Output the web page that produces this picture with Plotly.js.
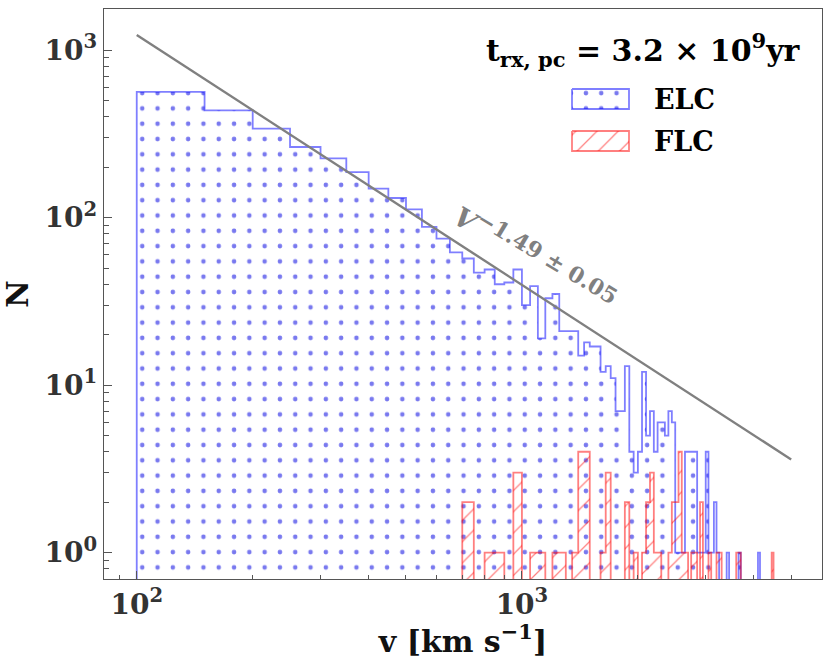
<!DOCTYPE html>
<html>
<head>
<meta charset="utf-8">
<script src="https://cdn.plot.ly/plotly-3.0.1.min.js"></script>
<style>
  html, body { margin: 0; padding: 0; background: #fff; }
  #chart { width: 831px; height: 659px; }
</style>
</head>
<body>
<div id="chart"></div>
<script>
// histogram bins (km/s): first edge and width
const binStart = 100;
const binWidth = 50;

// ELC counts per bin
const elcCounts = [
  563, 437, 340, 264, 226, 187, 149, 131, 112, 88,
  75, 62, 57, 47, 49, 40, 41, 49, 30, 39,
  19, 33, 35, 21, 21, 21, 15, 18, 17, 17,
  12, 13, 11, 7, 7, 13, 4, 3, 4, 12,
  5, 7, 4, 6, 6, 5, 7, 6, 1, 1,
  1, 4, 4, 4, 4, 1, 1, 1, 4, 1,
  1, 2, 1, 0, 0, 0, 1, 0, 0, 0,
  0, 1, 0, 0, 0, 0, 0, 0, 0, 0,
  1, 0, 0, 0, 0, 0, 0, 0
];

// FLC counts per bin
const flcCounts = [
  0, 0, 0, 0, 0, 0, 0, 0, 0, 0,
  0, 0, 2, 0, 1, 1, 0, 3, 0, 1,
  1, 0, 1, 1, 0, 1, 4, 4, 0, 0,
  1, 3, 0, 0, 0, 2, 0, 1, 0, 1,
  2, 3, 1, 1, 0, 0, 1, 2, 2, 4,
  1, 1, 0, 1, 1, 0, 2, 0, 0, 1,
  0, 0, 1, 1, 0, 0, 0, 0, 0, 0,
  1, 1, 0, 0, 0, 0, 0, 0, 0, 0,
  0, 0, 0, 0, 0, 0, 0, 1
];

// power law fit, end points
const fitV = [100, 5000];
const fitN = [1230, 3.6];

// ticks
const xTickVals = [100, 1000];
const xTickText = ['10<sup>2</sup>', '10<sup>3</sup>'];
const xMinorVals = [90, 200, 300, 400, 500, 600, 700, 800, 900, 2000, 3000, 4000, 5000, 6000];
const yTickVals = [1, 10, 100, 1000];
const yTickText = ['10<sup>0</sup>', '10<sup>1</sup>', '10<sup>2</sup>', '10<sup>3</sup>'];
const yMinorVals = [0.7, 0.8, 0.9, 2, 3, 4, 5, 6, 7, 8, 9, 20, 30, 40, 50, 60, 70, 80, 90,
                    200, 300, 400, 500, 600, 700, 800, 900];

const FONT = 'DejaVu Serif';
const blueLine = 'rgba(0,0,255,0.5)';
const redLine = 'rgba(255,0,0,0.5)';
const floorN = 0.1;   // zero bins go below the axis

// closed step outline for a histogram
function stepOutline(counts) {
  const xs = [binStart], ys = [floorN];
  counts.forEach((c, i) => {
    const h = c > 0 ? c : floorN;
    xs.push(binStart + binWidth * i, binStart + binWidth * (i + 1));
    ys.push(h, h);
  });
  xs.push(binStart + binWidth * counts.length);
  ys.push(floorN);
  return {xs, ys};
}

const elc = stepOutline(elcCounts);
const flc = stepOutline(flcCounts);

const dotPattern = {shape: '.', fgcolor: 'rgba(50,50,230,0.65)', bgcolor: 'rgba(0,0,0,0)',
                    size: 15.3, solidity: 0.07, fillmode: 'replace'};
const hatchPattern = {shape: '/', fgcolor: 'rgba(255,0,0,0.5)', bgcolor: 'rgba(0,0,0,0)',
                      size: 15, solidity: 0.08, fillmode: 'replace'};

const traces = [
  {x: elc.xs, y: elc.ys, type: 'scatter', mode: 'lines', fill: 'toself',
   fillcolor: 'rgba(0,0,0,0)', fillpattern: dotPattern,
   line: {color: blueLine, width: 1.8}, hoverinfo: 'skip', showlegend: false},
  {x: flc.xs, y: flc.ys, type: 'scatter', mode: 'lines', fill: 'toself',
   fillcolor: 'rgba(0,0,0,0)', fillpattern: hatchPattern,
   line: {color: redLine, width: 1.8}, hoverinfo: 'skip', showlegend: false},
  {x: fitV, y: fitN, type: 'scatter', mode: 'lines',
   line: {color: '#808080', width: 2.4}, hoverinfo: 'skip', showlegend: false},
  // legend swatches, drawn on a pixel-space overlay
  {x: [572, 629, 629, 572, 572], y: [89, 89, 109, 109, 89], xaxis: 'x2', yaxis: 'y2',
   type: 'scatter', mode: 'lines', fill: 'toself', fillcolor: 'rgba(0,0,0,0)',
   fillpattern: dotPattern, line: {color: blueLine, width: 1.8}, hoverinfo: 'skip', showlegend: false},
  {x: [572, 629, 629, 572, 572], y: [131, 131, 151, 151, 131], xaxis: 'x2', yaxis: 'y2',
   type: 'scatter', mode: 'lines', fill: 'toself', fillcolor: 'rgba(0,0,0,0)',
   fillpattern: hatchPattern, line: {color: redLine, width: 1.8}, hoverinfo: 'skip', showlegend: false}
];

const tickFont = {family: FONT, size: 28, weight: 'bold', color: '#333'};
const titleFont = {family: FONT, size: 30, weight: 'bold', color: '#111'};

const layout = {
  width: 831, height: 659,
  margin: {l: 104, r: 9, t: 9, b: 80},
  paper_bgcolor: '#fff', plot_bgcolor: '#fff',
  showlegend: false,
  xaxis: {
    type: 'log', range: [1.915, 3.779], autorange: false,
    showline: true, linecolor: '#555', linewidth: 1.3, mirror: true,
    showgrid: false, zeroline: false,
    ticks: 'inside', ticklen: 8, tickwidth: 1, tickcolor: '#555',
    tickmode: 'array', tickvals: xTickVals, ticktext: xTickText, tickfont: tickFont,
    minor: {tickmode: 'array', tickvals: xMinorVals, ticks: 'inside', ticklen: 4.5,
            tickwidth: 1, tickcolor: '#555', showgrid: false},
    title: {text: 'v [km s<sup>−1</sup>]', font: titleFont, standoff: 8}
  },
  yaxis: {
    type: 'log', range: [-0.1575, 3.2455], autorange: false,
    showline: true, linecolor: '#555', linewidth: 1.3, mirror: true,
    showgrid: false, zeroline: false,
    ticks: 'inside', ticklen: 8, tickwidth: 1, tickcolor: '#555',
    tickmode: 'array', tickvals: yTickVals, ticktext: yTickText, tickfont: tickFont,
    minor: {tickmode: 'array', tickvals: yMinorVals, ticks: 'inside', ticklen: 4.5,
            tickwidth: 1, tickcolor: '#555', showgrid: false},
    title: {text: 'N', font: titleFont, standoff: 14}
  },
  xaxis2: {overlaying: 'x', range: [104, 822], autorange: false, visible: false, fixedrange: true},
  yaxis2: {overlaying: 'y', range: [579, 9], autorange: false, visible: false, fixedrange: true},
  annotations: [
    {xref: 'x', yref: 'y', x: 3.035, y: 1.762, showarrow: false, textangle: 31,
     text: '<i>V</i><sup><span style="font-size:22px">−1.49 ± 0.05</span></sup>',
     font: {family: FONT, size: 27, weight: 'bold', color: '#808080'}},
    {xref: 'x2', yref: 'y2', x: 643, y: 50, showarrow: false,
     text: 't<sub>rx, pc</sub> = 3.2 × 10<sup>9</sup>yr',
     font: {family: FONT, size: 30, weight: 'bold', color: '#000'}},
    {xref: 'x2', yref: 'y2', x: 652, y: 99, xanchor: 'left', showarrow: false,
     text: 'ELC', font: {family: FONT, size: 27, weight: 'bold', color: '#000'}},
    {xref: 'x2', yref: 'y2', x: 652, y: 141, xanchor: 'left', showarrow: false,
     text: 'FLC', font: {family: FONT, size: 27, weight: 'bold', color: '#000'}}
  ]
};

Plotly.newPlot('chart', traces, layout, {displayModeBar: false, staticPlot: true});
</script>
</body>
</html>
